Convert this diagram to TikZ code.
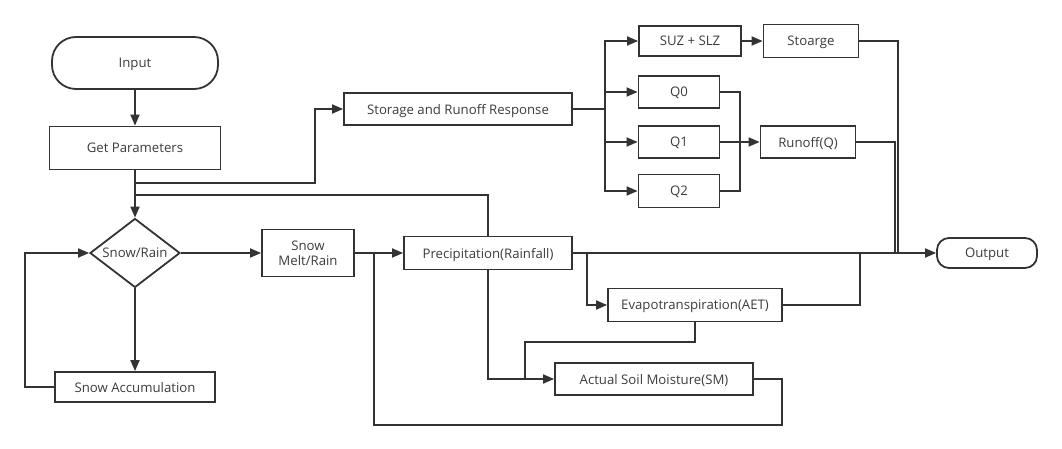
\documentclass[tikz,border=0pt]{standalone}
\usepackage{fontspec}
\setmainfont{Open Sans}
\usetikzlibrary{arrows.meta,shapes.geometric}
\definecolor{ln}{HTML}{333333}
\definecolor{tx}{HTML}{3C3C3C}
\tikzset{
  box/.style={draw=ln,line width=1.8pt,rectangle,inner sep=0pt,text depth=0pt,text=tx,font=\fontsize{13.2}{15.5}\selectfont,align=center},
  term/.style={box,rounded corners=#1},
  dia/.style={draw=ln,line width=1.8pt,diamond,inner sep=0pt,text depth=0pt,aspect=1.3,text=tx,font=\fontsize{13.2}{15.5}\selectfont},
  line/.style={draw=ln,line width=1.8pt},
  arr/.style={line,-{Triangle[length=11pt,width=9pt]}},
}
\begin{document}
\begin{tikzpicture}[x=1pt,y=-1pt]
\useasboundingbox (0,0) rectangle (1062,449);
\node[term=24pt,minimum width=166pt,minimum height=52pt] (in) at (135,63) {Input};
\node[box,minimum width=171pt,minimum height=43pt] (gp) at (135,148) {Get Parameters};
\node[dia,minimum width=90pt,minimum height=69pt] (sr) at (135,253) {Snow/Rain};
\node[box,minimum width=160pt,minimum height=30pt] (sa) at (135,387) {Snow Accumulation};
\node[box,minimum width=92pt,minimum height=47pt] (sm) at (308,253) {Snow\\Melt/Rain};
\node[box,minimum width=168pt,minimum height=33pt] (pr) at (488,253) {Precipitation(Rainfall)};
\node[box,minimum width=174pt,minimum height=33pt] (et) at (695,305) {Evapotranspiration(AET)};
\node[box,minimum width=198pt,minimum height=32pt] (asm) at (654,379) {Actual Soil Moisture(SM)};
\node[box,minimum width=228pt,minimum height=32pt] (srr) at (458,109) {Storage and Runoff Response};
\node[box,minimum width=102pt,minimum height=30pt] (suz) at (690,41) {SUZ + SLZ};
\node[box,minimum width=95pt,minimum height=33pt] (sto) at (811,41) {Stoarge};
\node[box,minimum width=81pt,minimum height=32pt] (q0) at (679,92) {Q0};
\node[box,minimum width=81pt,minimum height=32pt] (q1) at (679,142) {Q1};
\node[box,minimum width=81pt,minimum height=33pt] (q2) at (679,191) {Q2};
\node[box,minimum width=95pt,minimum height=32pt] (ro) at (808,142) {Runoff(Q)};
\node[term=12pt,minimum width=100pt,minimum height=30pt] (out) at (987,253) {Output};

\draw[arr] (in) -- (gp);
\draw[arr] (gp) -- (sr);
\draw[arr] (gp.south) |- (315,183) |- (srr.west);
\draw[line] (gp.south) |- (488,195) -- (pr.north);
\draw[arr] (sr) -- (sa);
\draw[arr] (sa.west) -- (25,387) |- (sr.west);
\draw[arr] (sr.east) -- (sm.west);
\draw[arr] (sm.east) -- (pr.west);
\draw[line] (asm.east) -| (782,425) -| (374,253);
\draw[arr] (pr.east) -- (out.west);
\draw[arr] (pr.east) -- (587,253) |- (et.west);
\draw[line] (et.east) -| (860,253);
\draw[line] (et.south) |- (525,342) -- (525,379);
\draw[arr] (pr.south) |- (asm.west);
\draw[arr] (srr.east) -- (605,109) |- (suz.west);
\draw[arr] (srr.east) -- (605,109) |- (q0.west);
\draw[arr] (srr.east) -- (605,109) |- (q1.west);
\draw[arr] (srr.east) -- (605,109) |- (q2.west);
\draw[arr] (suz) -- (sto);
\draw[line] (q0.east) -- (740,92) |- (q2.east);
\draw[arr] (q1) -- (ro);
\draw[line] (ro.east) -| (895,253);
\draw[line] (sto.east) -| (898,253);
\end{tikzpicture}
\end{document}
